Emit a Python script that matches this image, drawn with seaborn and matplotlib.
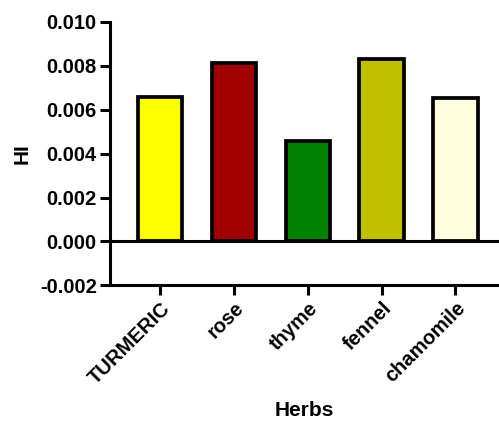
import matplotlib
matplotlib.use('Agg')
import matplotlib.pyplot as plt
import seaborn as sns
import pandas as pd

herbs = ['TURMERIC', 'rose', 'thyme', 'fennel', 'chamomile']
hi_values = [0.00659, 0.00813, 0.00457, 0.00832, 0.00653]
bar_colors = ['#FFFF00', '#A00000', '#008000', '#C0C000', '#FFFFE0']

sns.set_style('ticks')
plt.rcParams['font.family'] = ['Liberation Sans', 'DejaVu Sans']
plt.rcParams['font.weight'] = 'bold'
plt.rcParams['text.color'] = 'black'
plt.rcParams['axes.labelcolor'] = 'black'
plt.rcParams['xtick.color'] = 'black'
plt.rcParams['ytick.color'] = 'black'
plt.rcParams['axes.edgecolor'] = 'black'

df = pd.DataFrame({'Herbs': herbs, 'HI': hi_values})

fig = plt.figure(figsize=(4.99, 4.23), dpi=100)
ax = fig.add_axes([0.2204, 0.3255, 0.7796, 0.6225])

sns.barplot(data=df, x='Herbs', y='HI', hue='Herbs', palette=bar_colors,
            saturation=1, width=0.6, edgecolor='black', linewidth=2.7,
            legend=False, ax=ax)

ax.axhline(0, color='black', lw=2.2, zorder=5)

ax.set_ylim(-0.002, 0.010)
ax.set_yticks([-0.002, 0.0, 0.002, 0.004, 0.006, 0.008, 0.010])
ax.set_yticklabels(['-0.002', '0.000', '0.002', '0.004', '0.006', '0.008', '0.010'])
ax.set_xlim(-0.68, 4.59)

for s in ['top', 'right']:
    ax.spines[s].set_visible(False)
for s in ['left', 'bottom']:
    ax.spines[s].set_linewidth(2.2)

ax.tick_params(axis='both', width=2.2, length=7.5, labelsize=14.5, pad=2)
plt.setp(ax.get_xticklabels(), rotation=45, ha='right', rotation_mode='anchor', fontweight='bold')
plt.setp(ax.get_yticklabels(), fontweight='bold')

ax.set_xlabel('Herbs', fontsize=15, fontweight='bold', labelpad=10)
ax.set_ylabel('HI', fontsize=15, fontweight='bold', labelpad=6)

fig.savefig('out.png', dpi=100)
